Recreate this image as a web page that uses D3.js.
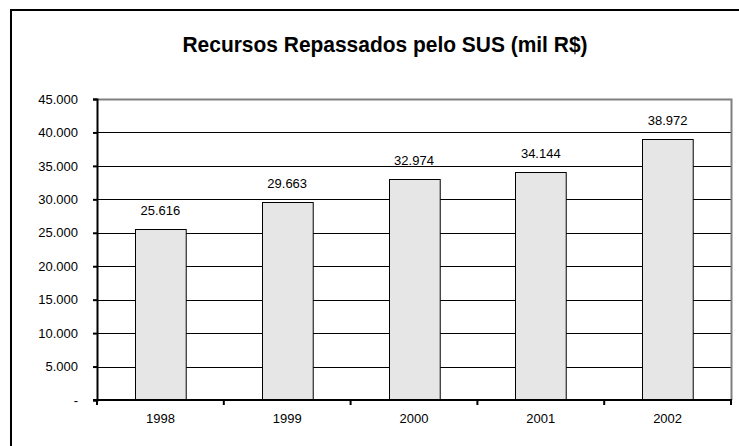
<!DOCTYPE html>
<html>
<head>
<meta charset="utf-8">
<script src="https://d3js.org/d3.v7.min.js"></script>
<style>
  body { margin: 0; background: #fff; }
  text { font-family: "Liberation Sans", Arial, sans-serif; fill: #000; }
</style>
</head>
<body>
<script>
// Recursos Repassados pelo SUS (mil R$)
const years = ['1998', '1999', '2000', '2001', '2002'];
const values = [25616, 29663, 32974, 34144, 38972];
const yTicks = [0, 5000, 10000, 15000, 20000, 25000, 30000, 35000, 40000, 45000];

const width = 739;
const height = 446;
const margin = { top: 99, right: 8, bottom: 46, left: 97 };

const fmt = v => v === 0 ? '-' : d3.format(',')(v).replace(/,/g, '.');

const svg = d3.select('body').append('svg')
  .attr('width', width)
  .attr('height', height);

// outer frame (runs off the right and bottom edges)
svg.append('rect')
  .attr('x', 11)
  .attr('y', 10)
  .attr('width', 760)
  .attr('height', 480)
  .attr('fill', 'none')
  .attr('stroke', '#000')
  .attr('stroke-width', 2);

svg.append('text')
  .attr('x', 385)
  .attr('y', 52)
  .attr('text-anchor', 'middle')
  .attr('textLength', 405)
  .attr('lengthAdjust', 'spacingAndGlyphs')
  .style('font-size', '22px')
  .style('font-weight', 'bold')
  .text('Recursos Repassados pelo SUS (mil R$)');

const x = d3.scaleBand()
  .domain(years)
  .range([margin.left, width - margin.right])
  .paddingInner(0.6)
  .paddingOuter(0.3);

const y = d3.scaleLinear()
  .domain([0, 45000])
  .range([height - margin.bottom, margin.top]);

const plotLeft = margin.left;
const plotRight = width - margin.right;

// gridlines
svg.append('g')
  .selectAll('line')
  .data(yTicks.filter(t => t > 0 && t < 45000))
  .enter().append('line')
  .attr('x1', plotLeft)
  .attr('x2', plotRight)
  .attr('y1', d => Math.round(y(d)) + 0.5)
  .attr('y2', d => Math.round(y(d)) + 0.5)
  .attr('stroke', '#000')
  .attr('stroke-width', 1);

// plot frame top and right in grey
svg.append('path')
  .attr('d', `M${plotLeft},${y(45000) + 0.5}H${plotRight + 0.5}V${y(0)}`)
  .attr('fill', 'none')
  .attr('stroke', '#808080')
  .attr('stroke-width', 2);

// bars
svg.append('g')
  .selectAll('rect')
  .data(values)
  .enter().append('rect')
  .attr('x', (d, i) => Math.round(x(years[i])) + 0.5)
  .attr('y', d => Math.round(y(d)) + 0.5)
  .attr('width', x.bandwidth())
  .attr('height', d => Math.round(y(0)) - Math.round(y(d)))
  .attr('fill', '#e6e6e6')
  .attr('stroke', '#000')
  .attr('stroke-width', 1);

// value labels
svg.append('g')
  .selectAll('text')
  .data(values)
  .enter().append('text')
  .attr('x', (d, i) => x(years[i]) + x.bandwidth() / 2)
  .attr('y', d => y(d) - 14)
  .attr('text-anchor', 'middle')
  .style('font-size', '13px')
  .text(d => fmt(d));

// y axis
const yAxis = d3.axisLeft(y)
  .tickValues(yTicks)
  .tickSize(4)
  .tickPadding(15)
  .tickFormat(fmt);

const gy = svg.append('g')
  .attr('transform', `translate(${plotLeft},0)`)
  .call(yAxis);
gy.select('.domain').attr('stroke-width', 2);
gy.selectAll('.tick line').attr('stroke-width', 2);
gy.selectAll('.tick text')
  .style('font-size', '13px')
  .style('font-family', '"Liberation Sans", Arial, sans-serif');

// x axis: ticks sit between categories
const boundaries = d3.range(years.length + 1).map(i => plotLeft + i * (plotRight - plotLeft) / years.length);

const gx = svg.append('g');
gx.append('line')
  .attr('x1', plotLeft - 4)
  .attr('x2', plotRight + 1)
  .attr('y1', y(0))
  .attr('y2', y(0))
  .attr('stroke', '#000')
  .attr('stroke-width', 2);
gx.selectAll('.xt')
  .data(boundaries)
  .enter().append('line')
  .attr('class', 'xt')
  .attr('x1', d => d)
  .attr('x2', d => d)
  .attr('y1', y(0))
  .attr('y2', y(0) + 5)
  .attr('stroke', '#000')
  .attr('stroke-width', 2);
gx.selectAll('text')
  .data(years)
  .enter().append('text')
  .attr('x', d => x(d) + x.bandwidth() / 2)
  .attr('y', y(0) + 23)
  .attr('text-anchor', 'middle')
  .style('font-size', '13px')
  .text(d => d);
</script>
</body>
</html>
